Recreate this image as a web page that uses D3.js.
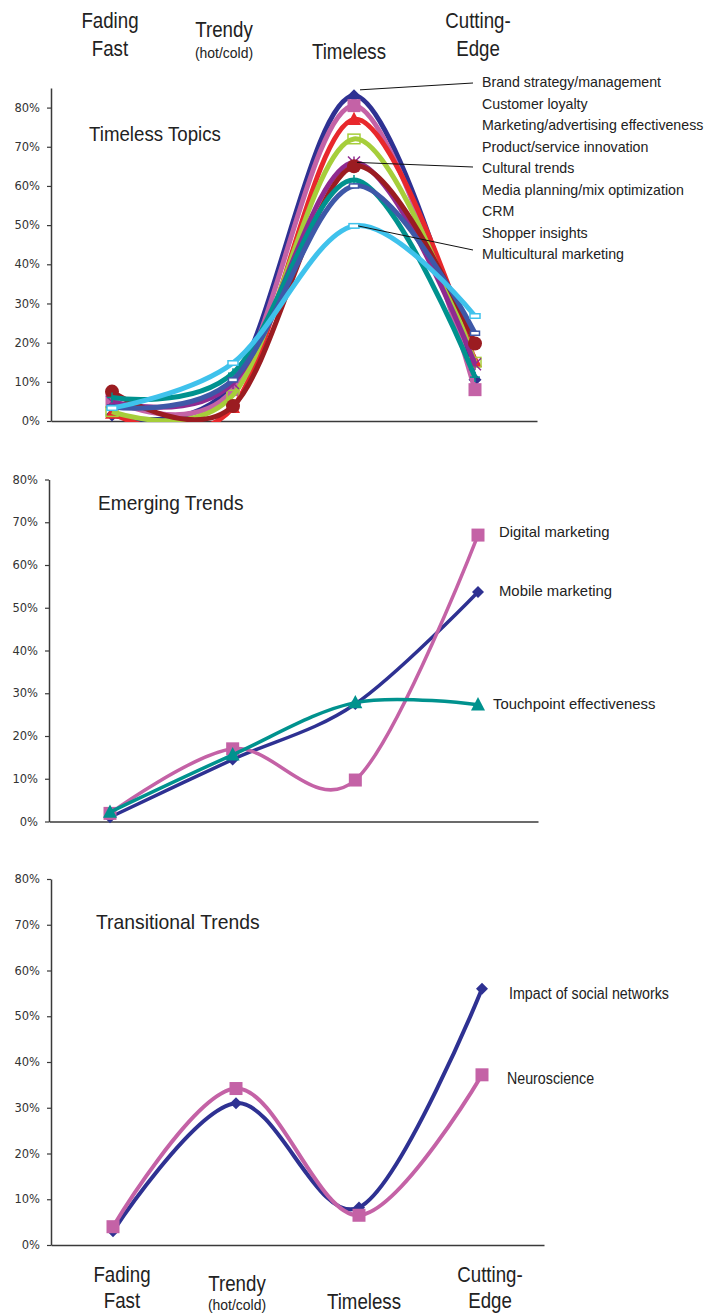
<!DOCTYPE html>
<html>
<head>
<meta charset="utf-8">
<script src="https://cdn.jsdelivr.net/npm/d3@7"></script>
<style>
  body { margin: 0; background: #fff; }
  svg { display: block; }
</style>
</head>
<body>
<svg id="chart" width="709" height="1314"></svg>
<script>
// ---------- data ----------
const categories = ["Fading Fast", "Trendy", "Timeless", "Cutting-Edge"];
const categoryLines = [["Fading", "Fast"], ["Trendy", "(hot/cold)"], ["Timeless"], ["Cutting-", "Edge"]];
const yTicks = [0, 0.1, 0.2, 0.3, 0.4, 0.5, 0.6, 0.7, 0.8];

// Timeless Topics
const timelessNames = [
  "Brand strategy/management", "Customer loyalty", "Marketing/advertising effectiveness",
  "Product/service innovation", "Cultural trends", "Media planning/mix optimization",
  "CRM", "Shopper insights", "Multicultural marketing"
];
const brandStrategy      = [0.015, 0.095, 0.83, 0.105];
const customerLoyalty    = [0.053, 0.080, 0.805, 0.080];
const marketingEffect    = [0.020, 0.035, 0.770, 0.152];
const productInnovation  = [0.024, 0.066, 0.720, 0.150];
const culturalTrends     = [0.049, 0.097, 0.660, 0.145];
const mediaPlanning      = [0.075, 0.038, 0.650, 0.198];
const crm                = [0.060, 0.122, 0.615, 0.112];
const shopperInsights    = [0.036, 0.105, 0.600, 0.224];
const multicultural      = [0.033, 0.148, 0.498, 0.268];

// Emerging Trends
const emergingNames = ["Mobile marketing", "Digital marketing", "Touchpoint effectiveness"];
const mobileMarketing    = [0.010, 0.145, 0.275, 0.537];
const digitalMarketing   = [0.019, 0.170, 0.097, 0.670];
const touchpoint         = [0.022, 0.156, 0.278, 0.273];

// Transitional Trends
const transitionalNames = ["Impact of social networks", "Neuroscience"];
const socialNetworks     = [0.030, 0.310, 0.082, 0.560];
const neuroscience       = [0.040, 0.342, 0.065, 0.372];

// ---------- drawing ----------
const svg = d3.select("#chart");
const TEXT_FONT = "'Liberation Sans', Arial, sans-serif";
const TICK_FONT = "'DejaVu Sans', Verdana, sans-serif";

const navy = "#2e3192", pink = "#c462a6", red = "#e8282c", lime = "#a6ce3a",
      purple = "#8f2a90", maroon = "#9b1c21", teal = "#00928e", blue = "#3e58a8", sky = "#3fc2ec";

// narrow the rendered glyph run to a fraction of its natural width
function squeeze(sel, k) {
  sel.each(function () {
    const L = this.getComputedTextLength();
    d3.select(this).attr("textLength", L * k).attr("lengthAdjust", "spacingAndGlyphs");
  });
}

function drawMarker(g, type, cx, cy, color, s) {
  switch (type) {
    case "diamond":
      g.append("path").attr("d", `M${cx},${cy - s}L${cx + s},${cy}L${cx},${cy + s}L${cx - s},${cy}Z`).attr("fill", color);
      break;
    case "square":
      g.append("rect").attr("x", cx - s).attr("y", cy - s).attr("width", 2 * s).attr("height", 2 * s).attr("fill", color);
      break;
    case "triangle":
      g.append("path").attr("d", `M${cx},${cy - s * 1.1}L${cx + s},${cy + s * 0.8}L${cx - s},${cy + s * 0.8}Z`).attr("fill", color);
      break;
    case "openSquare":
      g.append("rect").attr("x", cx - s).attr("y", cy - s * 0.8).attr("width", 2 * s).attr("height", 1.6 * s)
        .attr("fill", "none").attr("stroke", color).attr("stroke-width", 1.5);
      break;
    case "circle":
      g.append("circle").attr("cx", cx).attr("cy", cy).attr("r", s).attr("fill", color);
      break;
    case "star":
      [[-s, -s, s, s], [-s, s, s, -s], [0, -s, 0, s]].forEach(l =>
        g.append("line").attr("x1", cx + l[0]).attr("y1", cy + l[1]).attr("x2", cx + l[2]).attr("y2", cy + l[3])
          .attr("stroke", color).attr("stroke-width", 1.5));
      break;
    case "plus":
      [[-s, 0, s, 0], [0, -s, 0, s]].forEach(l =>
        g.append("line").attr("x1", cx + l[0]).attr("y1", cy + l[1]).attr("x2", cx + l[2]).attr("y2", cy + l[3])
          .attr("stroke", color).attr("stroke-width", 1.5));
      break;
    case "dash":
      g.append("rect").attr("x", cx - s).attr("y", cy - s * 0.45).attr("width", 2 * s).attr("height", s * 0.9)
        .attr("fill", "#fff").attr("stroke", color).attr("stroke-width", 1.5);
      break;
  }
}

function panel(cfg) {
  const x = d3.scalePoint().domain(categories).range([cfg.xFirst, cfg.xLast]);
  const y = d3.scaleLinear().domain([0, cfg.max]).range([cfg.bottom, cfg.top]);
  const g = svg.append("g");

  // y axis
  const ya = g.append("g").attr("transform", `translate(${cfg.left},0)`)
    .call(d3.axisLeft(y).tickValues(yTicks).tickSize(4).tickSizeOuter(0).tickPadding(7).tickFormat(d3.format(".0%")));
  ya.select(".domain").attr("stroke", "#3a3a3a").attr("stroke-width", 1.5);
  ya.selectAll(".tick line").attr("stroke", "#3a3a3a").attr("stroke-width", 1.2);
  ya.selectAll(".tick text").attr("font-family", TICK_FONT).attr("font-size", 11.5).attr("fill", "#333");

  // x axis (baseline only)
  const xa = g.append("g").attr("transform", `translate(0,${y(0)})`)
    .call(d3.axisBottom(d3.scaleLinear().range([cfg.left, cfg.right])).tickValues([]).tickSizeOuter(0));
  xa.select(".domain").attr("stroke", "#3a3a3a").attr("stroke-width", 1.5);

  // title
  g.append("text").attr("x", cfg.titleX).attr("y", cfg.titleY).text(cfg.title)
    .attr("font-family", TEXT_FONT).attr("font-size", 21).attr("fill", "#222")
    .call(squeeze, cfg.titleSqueeze);

  // plot-area clip for the smoothed lines
  const clipId = "clip" + cfg.id;
  g.append("clipPath").attr("id", clipId).append("rect")
    .attr("x", cfg.left).attr("y", cfg.top - 20).attr("width", cfg.right - cfg.left + 20).attr("height", y(0) - cfg.top + 21);

  const line = d3.line().x((d, i) => x(categories[i])).y(d => y(d)).curve(d3.curveCatmullRom.alpha(0));

  cfg.series.forEach(s => {
    g.append("path").datum(s.values).attr("d", line).attr("fill", "none")
      .attr("stroke", s.color).attr("stroke-width", cfg.lineWidth).attr("stroke-linejoin", "round")
      .attr("clip-path", `url(#${clipId})`);
    const mg = g.append("g");
    s.values.forEach((v, i) => drawMarker(mg, s.marker, x(categories[i]), y(v), s.color, s.size));
  });
  return { x, y, g };
}

// ---------- Timeless Topics ----------
const p1 = panel({
  id: 1, left: 51, right: 537, top: 88, bottom: 421, max: 0.85, xFirst: 112, xLast: 475,
  lineWidth: 5, title: "Timeless Topics", titleX: 89, titleY: 141, titleSqueeze: 0.89,
  series: [
    { values: brandStrategy,     color: navy,   marker: "diamond",    size: 6.5 },
    { values: customerLoyalty,   color: pink,   marker: "square",     size: 6.5 },
    { values: marketingEffect,   color: red,    marker: "triangle",   size: 7 },
    { values: productInnovation, color: lime,   marker: "openSquare", size: 6 },
    { values: culturalTrends,    color: purple, marker: "star",       size: 6 },
    { values: mediaPlanning,     color: maroon, marker: "circle",     size: 7 },
    { values: crm,               color: teal,   marker: "plus",       size: 5 },
    { values: shopperInsights,   color: blue,   marker: "dash",       size: 4.5 },
    { values: multicultural,     color: sky,    marker: "dash",       size: 5 }
  ]
});

const labelX1 = 482, labelY1 = 87, labelStep1 = 21.5;
timelessNames.forEach((name, i) => {
  p1.g.append("text").attr("x", labelX1).attr("y", labelY1 + i * labelStep1).text(name)
    .attr("font-family", TEXT_FONT).attr("font-size", 14.2).attr("fill", "#222");
});

// leader lines from the peaks to their labels
[
  { values: brandStrategy, label: 0, dx: 6, dy: -6, endDy: -4 },
  { values: culturalTrends, label: 4, dx: 3, dy: 0, endDy: -6 },
  { values: multicultural, label: 8, dx: 4, dy: 0, endDy: -9 }
].forEach(l => {
  p1.g.append("line")
    .attr("x1", p1.x("Timeless") + l.dx).attr("y1", p1.y(l.values[2]) + l.dy)
    .attr("x2", labelX1 - 9).attr("y2", labelY1 + l.label * labelStep1 + l.endDy)
    .attr("stroke", "#111").attr("stroke-width", 1);
});

// ---------- Emerging Trends ----------
const p2 = panel({
  id: 2, left: 49, right: 538, top: 479.5, bottom: 821.5, max: 0.8, xFirst: 110, xLast: 478,
  lineWidth: 3.5, title: "Emerging Trends", titleX: 98, titleY: 510, titleSqueeze: 0.91,
  series: [
    { values: mobileMarketing,  color: navy, marker: "diamond",  size: 6 },
    { values: digitalMarketing, color: pink, marker: "square",   size: 6.5 },
    { values: touchpoint,       color: teal, marker: "triangle", size: 7 }
  ]
});
[
  { values: mobileMarketing, name: emergingNames[0], dx: 21, dy: 4 },
  { values: digitalMarketing, name: emergingNames[1], dx: 21, dy: 2 },
  { values: touchpoint, name: emergingNames[2], dx: 15, dy: 4 }
].forEach(l => {
  p2.g.append("text").attr("x", p2.x("Cutting-Edge") + l.dx).attr("y", p2.y(l.values[3]) + l.dy).text(l.name)
    .attr("font-family", TEXT_FONT).attr("font-size", 15).attr("fill", "#222")
    .call(squeeze, 0.99);
});

// ---------- Transitional Trends ----------
const p3 = panel({
  id: 3, left: 51, right: 544, top: 879, bottom: 1245, max: 0.8, xFirst: 113, xLast: 482,
  lineWidth: 4, title: "Transitional Trends", titleX: 96, titleY: 929, titleSqueeze: 0.92,
  series: [
    { values: socialNetworks, color: navy, marker: "diamond", size: 6 },
    { values: neuroscience,   color: pink, marker: "square",  size: 6.5 }
  ]
});
[
  { values: socialNetworks, name: transitionalNames[0], dx: 27, dy: 10 },
  { values: neuroscience, name: transitionalNames[1], dx: 25, dy: 9 }
].forEach(l => {
  p3.g.append("text").attr("x", p3.x("Cutting-Edge") + l.dx).attr("y", p3.y(l.values[3]) + l.dy).text(l.name)
    .attr("font-family", TEXT_FONT).attr("font-size", 16).attr("fill", "#222")
    .call(squeeze, 0.89);
});

// ---------- category headings (top and bottom) ----------
function headings(xScale, dxs, rows) {
  categoryLines.forEach((lines, i) => {
    lines.forEach((txt, j) => {
      const small = txt.startsWith("(");
      svg.append("text")
        .attr("x", xScale(categories[i]) + dxs[i]).attr("y", rows[i][j])
        .attr("text-anchor", "middle").text(txt)
        .attr("font-family", TEXT_FONT).attr("font-size", small ? 15 : 22).attr("fill", "#222")
        .call(squeeze, small ? 0.93 : 0.85);
    });
  });
}
headings(p1.x, [-2, -9, -5, 3], [[28, 56], [37, 58], [59], [28, 56]]);
headings(p3.x, [9, 1, 5, 8], [[1282, 1308], [1291, 1310], [1309], [1282, 1308]]);
</script>
</body>
</html>
